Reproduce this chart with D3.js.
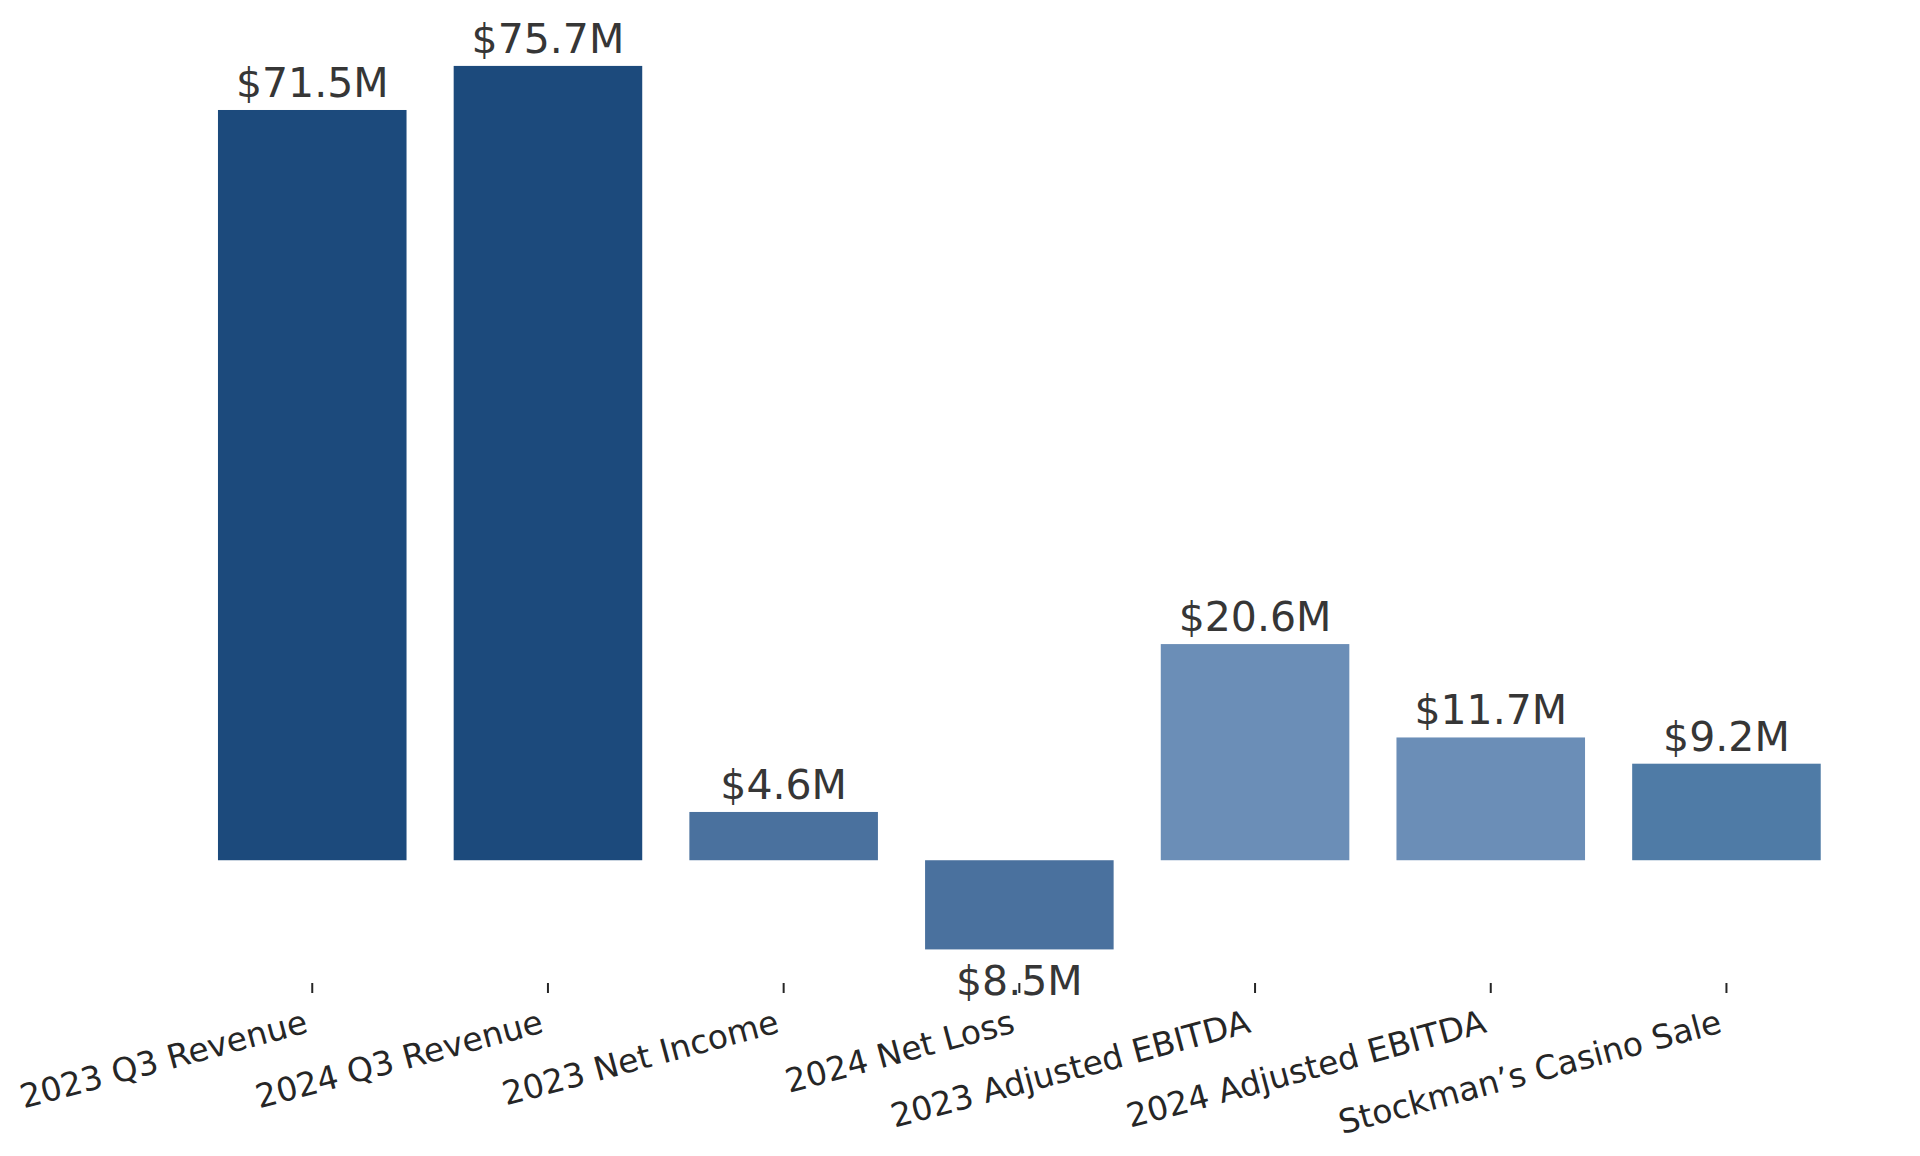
<!DOCTYPE html>
<html>
<head>
<meta charset="utf-8">
<script src="https://cdn.jsdelivr.net/npm/d3@7"></script>
<style>
  html, body { margin: 0; padding: 0; background: #ffffff; }
  svg { display: block; }
</style>
</head>
<body>
<svg id="chart" width="1920" height="1156"></svg>
<script>
// ---- data ----
const categories = [
  "2023 Q3 Revenue",
  "2024 Q3 Revenue",
  "2023 Net Income",
  "2024 Net Loss",
  "2023 Adjusted EBITDA",
  "2024 Adjusted EBITDA",
  "Stockman\u2019s Casino Sale"
];
const values = [71.5, 75.7, 4.6, -8.5, 20.6, 11.7, 9.2]; // $M
const palette = ["#1c4a7c", "#1c4a7c", "#4a719e", "#4a719e", "#6b8eb7", "#6b8eb7", "#4f7ba6"];
const yDomain = [-11.7, 80];

// ---- layout ----
const svg = d3.select("#chart");
const axisY = 983;
const topY = 20.8;

const x = d3.scaleBand()
  .domain(categories)
  .range([194.4, 1844.3])
  .paddingInner(0.2)
  .paddingOuter(0.1);

const y = d3.scaleLinear()
  .domain(yDomain)
  .range([axisY, topY]);

const data = categories.map((c, i) => ({ cat: c, value: values[i], color: palette[i] }));

// bars
svg.append("g")
  .selectAll("rect")
  .data(data)
  .join("rect")
  .attr("x", d => x(d.cat))
  .attr("width", x.bandwidth())
  .attr("y", d => y(Math.max(0, d.value)))
  .attr("height", d => Math.abs(y(d.value) - y(0)))
  .attr("fill", d => d.color);

// value labels
const fmt = v => "$" + Math.abs(v).toFixed(1) + "M";
svg.append("g")
  .selectAll("text")
  .data(data)
  .join("text")
  .attr("x", d => x(d.cat) + x.bandwidth() / 2)
  .attr("y", d => d.value >= 0 ? y(d.value) - 13 : y(d.value) + 46)
  .attr("text-anchor", "middle")
  .attr("font-family", "'DejaVu Sans', sans-serif")
  .attr("font-size", 41)
  .attr("fill", "#363636")
  .text(d => fmt(d.value));

// x axis (ticks only, no spine)
const axis = d3.axisBottom(x).tickSize(10).tickSizeOuter(0);
const gx = svg.append("g")
  .attr("transform", `translate(0,${axisY})`)
  .call(axis);
gx.select(".domain").remove();
gx.selectAll(".tick line")
  .attr("stroke", "#262626")
  .attr("stroke-width", 2);
gx.selectAll(".tick text")
  .attr("x", 0)
  .attr("y", 0)
  .attr("dy", 0)
  .attr("text-anchor", "end")
  .attr("transform", "translate(-3,49) rotate(-15)")
  .attr("font-family", "'DejaVu Sans', sans-serif")
  .attr("font-size", 33)
  .attr("fill", "#262626");
</script>
</body>
</html>
